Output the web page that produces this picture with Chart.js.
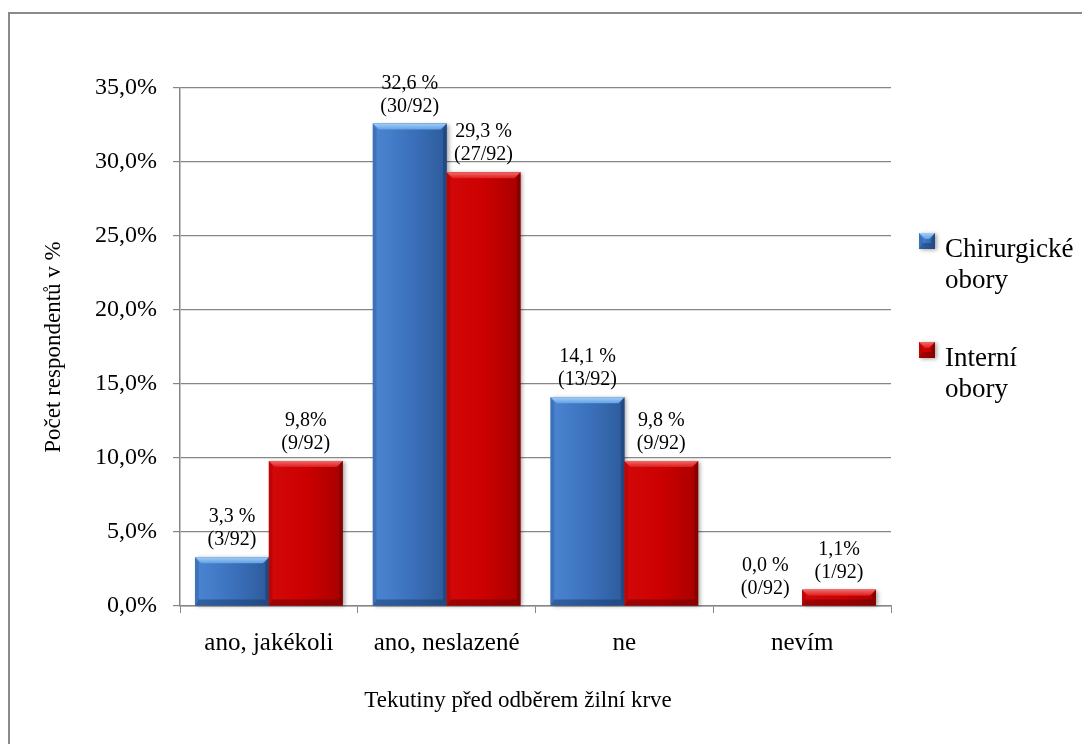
<!DOCTYPE html>
<html>
<head>
<meta charset="utf-8">
<style>
  html, body { margin: 0; padding: 0; background: #ffffff; }
  #wrap { position: relative; width: 1082px; height: 744px; }
</style>
<script src="https://cdn.jsdelivr.net/npm/chart.js@4/dist/chart.umd.min.js"></script>
</head>
<body>
<div id="wrap"><canvas id="chart" width="1082" height="744"></canvas></div>
<script>
// Categories and series
const categories = ['ano, jakékoli', 'ano, neslazené', 'ne', 'nevím'];
const chirurgickeValues = [3.3, 32.6, 14.1, 0.0];
const interniValues = [9.8, 29.3, 9.8, 1.1];

// Value labels written above each bar (percent line + count line)
const chirurgickePctLabels = ['3,3 %', '32,6 %', '14,1 %', '0,0 %'];
const chirurgickeCountLabels = ['(3/92)', '(30/92)', '(13/92)', '(0/92)'];
const interniPctLabels = ['9,8%', '29,3 %', '9,8 %', '1,1%'];
const interniCountLabels = ['(9/92)', '(27/92)', '(9/92)', '(1/92)'];

// Y axis tick labels (0 to 35 in steps of 5)
const yTickLabels = ['0,0%', '5,0%', '10,0%', '15,0%', '20,0%', '25,0%', '30,0%', '35,0%'];

const seriesNames = [['Chirurgické', 'obory'], ['Interní', 'obory']];
const xTitle = 'Tekutiny před odběrem žilní krve';
const yTitle = 'Počet respondentů v %';

const SERIF = '"Liberation Serif", "Times New Roman", serif';
const GRID = '#868686';

const palettes = [
  { // blue
    body: ['#4b86d2', '#3c72bd', '#2d5b9b'],
    top: ['#a2cef8', '#62a1e4'],
    left: 'rgba(40,80,140,0.35)',
    right: 'rgba(20,50,100,0.45)',
    bottom: 'rgba(20,50,100,0.45)'
  },
  { // red
    body: ['#d30808', '#cc0000', '#a80000'],
    top: ['#f26a6a', '#de1c1c'],
    left: 'rgba(120,0,0,0.25)',
    right: 'rgba(90,0,0,0.45)',
    bottom: 'rgba(90,0,0,0.45)'
  }
];

// Bevelled bar drawn over each bar element, using the element's own geometry
function drawBevelBar(ctx, x0, y0, x1, y1, pal) {
  const h = y1 - y0;
  if (h <= 0.5) return;
  const b = Math.min(6, h / 2);
  ctx.save();
  ctx.shadowColor = 'rgba(0,0,0,0.35)';
  ctx.shadowBlur = 4;
  ctx.shadowOffsetX = 2;
  ctx.shadowOffsetY = 1;
  const g = ctx.createLinearGradient(x0, 0, x1, 0);
  g.addColorStop(0, pal.body[0]);
  g.addColorStop(0.5, pal.body[1]);
  g.addColorStop(1, pal.body[2]);
  ctx.fillStyle = g;
  ctx.fillRect(x0, y0, x1 - x0, h);
  ctx.restore();

  ctx.save();
  // top bevel
  const gt = ctx.createLinearGradient(0, y0, 0, y0 + b);
  gt.addColorStop(0, pal.top[0]);
  gt.addColorStop(1, pal.top[1]);
  ctx.fillStyle = gt;
  ctx.beginPath();
  ctx.moveTo(x0, y0); ctx.lineTo(x1, y0); ctx.lineTo(x1 - b, y0 + b); ctx.lineTo(x0 + b, y0 + b);
  ctx.closePath(); ctx.fill();
  // left bevel
  ctx.fillStyle = pal.left;
  ctx.beginPath();
  ctx.moveTo(x0, y0); ctx.lineTo(x0 + b * 0.6, y0 + b); ctx.lineTo(x0 + b * 0.6, y1 - b); ctx.lineTo(x0, y1);
  ctx.closePath(); ctx.fill();
  // right bevel
  ctx.fillStyle = pal.right;
  ctx.beginPath();
  ctx.moveTo(x1, y0); ctx.lineTo(x1 - b * 0.6, y0 + b); ctx.lineTo(x1 - b * 0.6, y1 - b); ctx.lineTo(x1, y1);
  ctx.closePath(); ctx.fill();
  // bottom bevel
  ctx.fillStyle = pal.bottom;
  ctx.beginPath();
  ctx.moveTo(x0, y1); ctx.lineTo(x0 + b * 0.6, y1 - b); ctx.lineTo(x1 - b * 0.6, y1 - b); ctx.lineTo(x1, y1);
  ctx.closePath(); ctx.fill();
  ctx.restore();
}

const framePlugin = {
  id: 'frame',
  beforeDraw(chart) {
    const ctx = chart.ctx;
    ctx.save();
    ctx.fillStyle = '#ffffff';
    ctx.fillRect(0, 0, chart.width, chart.height);
    ctx.strokeStyle = '#8a8a8a';
    ctx.lineWidth = 2;
    ctx.beginPath();
    ctx.moveTo(9, chart.height);
    ctx.lineTo(9, 13);
    ctx.lineTo(chart.width, 13);
    ctx.stroke();
    ctx.restore();
  }
};

const barStylePlugin = {
  id: 'barStyle',
  afterDatasetsDraw(chart) {
    const ctx = chart.ctx;
    chart.data.datasets.forEach((ds, di) => {
      const meta = chart.getDatasetMeta(di);
      meta.data.forEach((el) => {
        const p = el.getProps(['x', 'y', 'width', 'base'], true);
        drawBevelBar(ctx, p.x - p.width / 2, Math.min(p.y, p.base), p.x + p.width / 2, Math.max(p.y, p.base), palettes[di]);
      });
    });
  }
};

const valueLabelPlugin = {
  id: 'valueLabels',
  afterDatasetsDraw(chart) {
    const ctx = chart.ctx;
    const sets = [
      [chirurgickePctLabels, chirurgickeCountLabels],
      [interniPctLabels, interniCountLabels]
    ];
    ctx.save();
    ctx.font = '20px ' + SERIF;
    ctx.fillStyle = '#000000';
    ctx.textAlign = 'center';
    ctx.textBaseline = 'alphabetic';
    chart.data.datasets.forEach((ds, di) => {
      const meta = chart.getDatasetMeta(di);
      meta.data.forEach((el, i) => {
        const p = el.getProps(['x', 'y'], true);
        const base = p.y - 12;
        ctx.fillText(sets[di][1][i], p.x, base);
        ctx.fillText(sets[di][0][i], p.x, base - 23);
      });
    });
    ctx.restore();
  }
};

const legendPlugin = {
  id: 'sideLegend',
  afterDraw(chart) {
    const ctx = chart.ctx;
    const x = chart.chartArea.right + 28;
    const tops = [233, 342];
    ctx.save();
    ctx.font = '27px ' + SERIF;
    ctx.textAlign = 'left';
    ctx.textBaseline = 'alphabetic';
    seriesNames.forEach((lines, i) => {
      const y = tops[i];
      drawBevelBar(ctx, x, y, x + 16, y + 16, palettes[i]);
      ctx.fillStyle = '#000000';
      lines.forEach((t, k) => ctx.fillText(t, x + 26, y + 24 + k * 31));
    });
    // horizontal axis title
    ctx.font = '23px ' + SERIF;
    ctx.textAlign = 'center';
    ctx.fillText(xTitle, 518, 707);
    ctx.restore();
  }
};

new Chart(document.getElementById('chart'), {
  type: 'bar',
  data: {
    labels: categories,
    datasets: [
      { label: seriesNames[0].join(' '), data: chirurgickeValues, backgroundColor: '#3c72bd', borderWidth: 0 },
      { label: seriesNames[1].join(' '), data: interniValues, backgroundColor: '#cc0000', borderWidth: 0 }
    ]
  },
  options: {
    responsive: false,
    animation: false,
    devicePixelRatio: 1,
    layout: { padding: { top: 88, right: 191, left: 0, bottom: 0 } },
    datasets: { bar: { categoryPercentage: 0.83, barPercentage: 1.0 } },
    plugins: {
      legend: { display: false },
      tooltip: { enabled: false },
      title: { display: false }
    },
    scales: {
      x: {
        afterFit(scale) { scale.height = 138; },
        grid: { offset: true, drawOnChartArea: false, drawTicks: true, tickLength: 7, color: GRID, lineWidth: 1 },
        border: { display: true, color: GRID, width: 1.5 },
        ticks: { color: '#000000', font: { family: SERIF, size: 25 }, padding: 15 }
      },
      y: {
        min: 0, max: 35,
        afterFit(scale) { scale.width = 180; },
        grid: { color: GRID, lineWidth: 1.2, tickLength: 7, drawTicks: true },
        border: { display: true, color: GRID, width: 1.5 },
        ticks: {
          stepSize: 5,
          color: '#000000',
          font: { family: SERIF, size: 24 },
          padding: 16,
          callback: (v) => yTickLabels[Math.round(v / 5)]
        },
        title: {
          display: true,
          text: yTitle,
          color: '#000000',
          font: { family: SERIF, size: 23 },
          padding: { top: 40, bottom: 0 }
        }
      }
    }
  },
  plugins: [framePlugin, barStylePlugin, valueLabelPlugin, legendPlugin]
});
</script>
</body>
</html>
